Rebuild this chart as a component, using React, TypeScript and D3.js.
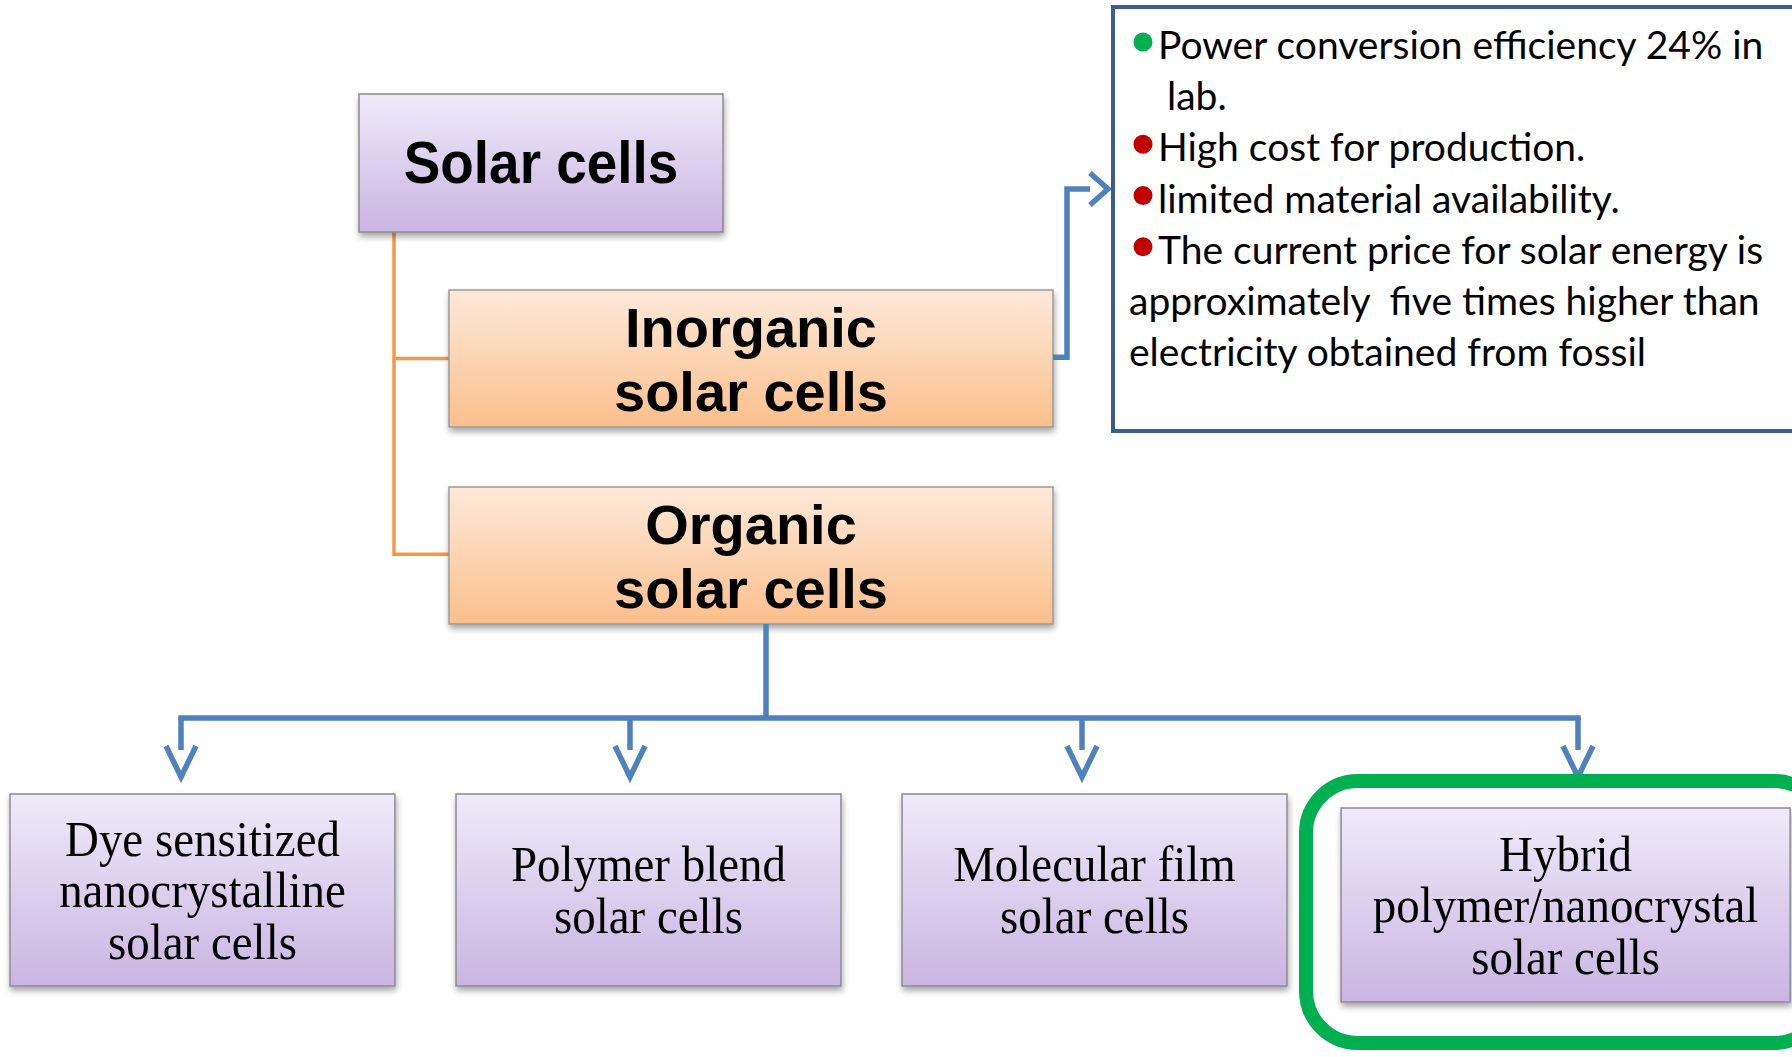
import React from 'react';
import * as d3 from 'd3';

// diagram content
const rootLabel = ['Solar cells'];
const mainTypes = [
  ['Inorganic', 'solar cells'],
  ['Organic', 'solar cells'],
];
const organicTypes = [
  ['Dye sensitized', 'nanocrystalline', 'solar cells'],
  ['Polymer blend', 'solar cells'],
  ['Molecular film', 'solar cells'],
  ['Hybrid', 'polymer/nanocrystal', 'solar cells'],
];
const highlightIndex = 3;
const noteKinds = ['pro', 'con', 'con', 'con'];
const noteLines = [
  ['Power conversion efficiency 24% in', 'lab.'],
  ['High cost for production.'],
  ['limited material availability.'],
  ['The current price for solar energy is', 'approximately  five times higher than', 'electricity obtained from fossil'],
];

// layout
const W = 1792;
const H = 1057;
const BLUE = '#4f81bd';
const ORANGE = '#f79646';

const root = { x: 359, y: 94, w: 364, h: 138 };
const mainY = d3.scaleBand<number>().domain([0, 1]).range([290, 624]).paddingInner(0.3046);
const mainX = { x: 449, w: 604 };
const bottomX = d3.scaleBand<number>().domain(d3.range(4)).range([10, 1733]).paddingInner(0.137).paddingOuter(0);
const bottomY = 794;
const bottomH = 192;
const arrowX = [181, 630, 1082, 1578];
const busY = 718;
const note = { x: 1113, y: 7, w: 700, h: 424 };
const noteLineY = d3.scaleLinear().domain([0, 6]).range([59, 366]);

function Chevron({ x, y, dir }: { x: number; y: number; dir: 'down' | 'right' }) {
  const p = d3.path();
  if (dir === 'down') {
    p.moveTo(x - 15, y - 31);
    p.lineTo(x, y);
    p.lineTo(x + 15, y - 31);
  } else {
    p.moveTo(x - 18, y - 16);
    p.lineTo(x, y);
    p.lineTo(x - 18, y + 16);
  }
  return <path d={p.toString()} fill="none" stroke={BLUE} strokeWidth={5.5} />;
}

function Label({ x, y, text, size, family, weight, squish }: any) {
  return (
    <g transform={`translate(${x},${y}) scale(${squish},1)`}>
      <text textAnchor="middle" fontSize={size} fontFamily={family} fontWeight={weight} fill="#000" style={{ whiteSpace: 'pre' }}>
        {text}
      </text>
    </g>
  );
}

export default function App() {
  const line = d3.line();
  const flat: { text: string; item: number; first: boolean }[] = [];
  noteLines.forEach((ls, i) => ls.forEach((t, j) => flat.push({ text: t, item: i, first: j === 0 })));

  const bw = bottomX.bandwidth();
  const boxes = organicTypes.map((lines, i) => {
    const hl = i === highlightIndex;
    const x = hl ? (bottomX(i) as number) - 7 : (bottomX(i) as number);
    const w = hl ? 449 : bw;
    const y = hl ? bottomY + 14 : bottomY;
    const h = hl ? bottomH + 2 : bottomH;
    return { lines, x, y, w, h, hl };
  });

  const inorgY = mainY(0) as number;
  const orgY = mainY(1) as number;
  const mh = mainY.bandwidth();
  const orgCx = mainX.x + mainX.w / 2;

  return (
    <svg width={W} height={H} style={{ position: 'absolute', left: 0, top: 0, background: '#fff' }}>
      <defs>
        <linearGradient id="purple" x1="0" y1="0" x2="0" y2="1">
          <stop offset="0" stopColor="#efeaf8" />
          <stop offset="1" stopColor="#c9b5e3" />
        </linearGradient>
        <linearGradient id="orange" x1="0" y1="0" x2="0" y2="1">
          <stop offset="0" stopColor="#fde9d9" />
          <stop offset="1" stopColor="#fbbf8c" />
        </linearGradient>
        <filter id="shadow" x="-5%" y="-5%" width="115%" height="120%">
          <feDropShadow dx="1" dy="4" stdDeviation="3" floodColor="#000" floodOpacity="0.35" />
        </filter>
      </defs>

      {/* orange connectors */}
      <path
        d={line([[394, root.y + root.h], [394, orgY + mh * 0.49], [mainX.x, orgY + mh * 0.49]]) as string}
        fill="none" stroke={ORANGE} strokeWidth={3.5}
      />
      <path d={line([[394, inorgY + mh * 0.5], [mainX.x, inorgY + mh * 0.5]]) as string} fill="none" stroke={ORANGE} strokeWidth={3.5} />

      {/* root */}
      <rect x={root.x} y={root.y} width={root.w} height={root.h} fill="url(#purple)" stroke="#8a8a8a" strokeWidth={1.5} filter="url(#shadow)" />
      <Label x={root.x + root.w / 2} y={183} text={rootLabel[0]} size={59} family="Liberation Sans, Arial, sans-serif" weight="bold" squish={0.93} />

      {/* main types */}
      {mainTypes.map((ls, i) => {
        const y = mainY(i) as number;
        return (
          <g key={i}>
            <rect x={mainX.x} y={y} width={mainX.w} height={mh} fill="url(#orange)" stroke="#9a9a9a" strokeWidth={1.5} filter="url(#shadow)" />
            {ls.map((t, j) => (
              <Label key={j} x={orgCx} y={y + 57 + j * 64} text={t} size={56} family="Liberation Sans, Arial, sans-serif" weight="bold" squish={1} />
            ))}
          </g>
        );
      })}

      {/* link to notes */}
      <path
        d={line([[mainX.x + mainX.w, inorgY + mh * 0.49], [1067, inorgY + mh * 0.49], [1067, 189], [1090, 189]]) as string}
        fill="none" stroke={BLUE} strokeWidth={5.5}
      />
      <Chevron x={1108} y={189} dir="right" />

      {/* notes box */}
      <rect x={note.x} y={note.y} width={note.w} height={note.h} fill="#fff" stroke="#3b5e8e" strokeWidth={4} />
      {flat.map((l, i) => {
        const y = noteLineY(i);
        const x = l.first ? 1158 : l.item === 0 ? 1167 : 1129;
        return (
          <g key={i}>
            {l.first && <circle cx={1143} cy={y - 17} r={9.5} fill={noteKinds[l.item] === 'pro' ? '#00b050' : '#c00000'} />}
            <text x={x} y={y} fontFamily="Lato, sans-serif" fontSize={39} fill="#000" style={{ whiteSpace: 'pre' }}>
              {l.text}
            </text>
          </g>
        );
      })}

      {/* organic branches */}
      <path d={line([[orgCx + 15, orgY + mh], [orgCx + 15, busY]]) as string} fill="none" stroke={BLUE} strokeWidth={5.5} />
      <path d={line([[arrowX[0], busY + 2], [arrowX[0], busY], [arrowX[3], busY], [arrowX[3], busY + 2]]) as string} fill="none" stroke={BLUE} strokeWidth={5.5} />
      {arrowX.map((ax, i) => (
        <g key={i}>
          <path d={line([[ax, busY], [ax, busY + 32]]) as string} fill="none" stroke={BLUE} strokeWidth={5.5} />
          <Chevron x={ax} y={busY + 59} dir="down" />
        </g>
      ))}

      {/* highlight */}
      <rect x={1306} y={781} width={520} height={262} rx={52} ry={52} fill="none" stroke="#00b050" strokeWidth={14} />

      {/* bottom boxes */}
      {boxes.map((b, i) => {
        const n = b.lines.length;
        const y0 = b.y + b.h / 2 - ((n - 1) * 51.5) / 2 + 17;
        return (
          <g key={i}>
            <rect x={b.x} y={b.y} width={b.w} height={b.h} fill="url(#purple)" stroke="#8c8c94" strokeWidth={1.5} filter="url(#shadow)" />
            {b.lines.map((t, j) => (
              <Label key={j} x={b.x + b.w / 2} y={y0 + j * 51.5} text={t} size={51} family="Liberation Serif, Times New Roman, serif" weight="normal" squish={0.92} />
            ))}
          </g>
        );
      })}
    </svg>
  );
}
